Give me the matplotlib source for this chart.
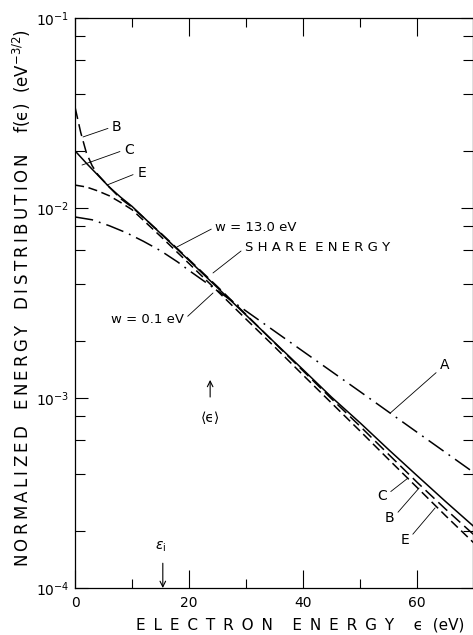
import numpy as np
import matplotlib
matplotlib.use("Agg")
import matplotlib.pyplot as plt
from matplotlib.ticker import LogLocator, FixedLocator, NullFormatter

plt.rcParams['font.family'] = ['DejaVu Sans']
plt.rcParams['mathtext.fontset'] = 'dejavusans'

# electron energy grid (eV)
eps = [0, 2, 4, 6, 8, 10, 15, 20, 25, 30, 35, 40, 45, 50, 55, 60, 65, 70]
eps_b = [0, 1, 2, 3, 4, 6, 8, 10, 15, 20, 25, 30, 35, 40, 45, 50, 55, 60, 65, 70]
eps_a = [0, 3, 6, 9, 12, 15, 18, 20, 30, 40, 50, 60, 70]

# normalized distributions f(eps), eV^-3/2
f_a = [8.97e-3, 8.67e-3, 8.07e-3, 7.41e-3, 6.68e-3, 5.96e-3, 5.20e-3, 4.69e-3,
       2.87e-3, 1.76e-3, 1.08e-3, 6.6e-4, 4.04e-4]
f_b = [0.034, 0.025, 0.0195, 0.0167, 0.0150, 0.0129, 0.0112, 0.0101, 7.4e-3,
       5.35e-3, 3.85e-3, 2.75e-3, 1.95e-3, 1.39e-3, 9.9e-4, 7.1e-4, 5.05e-4,
       3.6e-4, 2.6e-4, 1.9e-4]
f_c = [0.0200, 0.0172, 0.0149, 0.0129, 0.0114, 0.0102, 7.35e-3, 5.3e-3, 3.8e-3,
       2.73e-3, 1.96e-3, 1.41e-3, 1.01e-3, 7.4e-4, 5.35e-4, 3.9e-4, 2.85e-4, 2.1e-4]
f_e = [0.0132, 0.0129, 0.0123, 0.0116, 0.0107, 9.8e-3, 7.1e-3, 5.1e-3, 3.65e-3,
       2.6e-3, 1.86e-3, 1.32e-3, 9.4e-4, 6.7e-4, 4.75e-4, 3.38e-4, 2.4e-4, 1.72e-4]

eps_ion = 15.4     # ionization energy marker
eps_mean = 23.7    # mean energy marker

fig = plt.figure(figsize=(4.73, 6.35), dpi=100)
ax = fig.add_axes([75/473, 1 - 588/635, 398/473, 570/635])

ax.semilogy(eps_a, f_a, color='k', lw=1.1, dashes=[12, 4, 1.2, 4])
ax.semilogy(eps_b, f_b, color='k', lw=1.1, dashes=[8, 3.5])
ax.semilogy(eps, f_c, color='k', lw=1.1)
ax.semilogy(eps, f_e, color='k', lw=1.1, dashes=[6, 3])

ax.set_xlim(0, 69.8)
ax.set_ylim(1e-4, 1e-1)

ax.xaxis.set_major_locator(FixedLocator([0, 20, 40, 60]))
ax.xaxis.set_minor_locator(FixedLocator([10, 30, 50]))
ax.yaxis.set_minor_locator(LogLocator(base=10, subs=[2, 4, 6, 8]))
ax.yaxis.set_minor_formatter(NullFormatter())
ax.tick_params(which='both', direction='in', top=True, right=True, labelsize=10, width=0.8)
ax.tick_params(axis='x', which='major', length=13, pad=6)
ax.tick_params(axis='x', which='minor', length=6.5)
ax.tick_params(axis='y', which='major', length=9, pad=4)
ax.tick_params(axis='y', which='minor', length=7)
for s in ax.spines.values():
    s.set_linewidth(0.9)

sp = '\u2009'
ylab = sp.join('NORMALIZED') + '   ' + sp.join('ENERGY') + '   ' + sp.join('DISTRIBUTION') \
    + '    f(ϵ)  (eV$^{-3/2}$)'
fig.text(22/473, 1 - 298/635, ylab, rotation=90, ha='center', va='center', fontsize=12)
wsp = ' \u2009'
xlab = wsp.join('ELECTRON') + '    ' + wsp.join('ENERGY') + '    ϵ  (eV)'
fig.text(300/473, 1 - 625/635, xlab, ha='center', va='center', fontsize=11)

lead = dict(arrowstyle='-', lw=0.6, color='k', shrinkA=1, shrinkB=0)

def note(txt, xy, xyt, ha='left', rel=(0, 0.5), fs=10):
    ax.annotate(txt, xy=xy, xytext=xyt, ha=ha, va='center', fontsize=fs,
                arrowprops=dict(lead, relpos=rel))

# curve labels, upper left
note('B', (1.40, 0.02365), (6.5, 0.02669))
note('C', (1.23, 0.01683), (8.6, 0.02018))
note('E', (5.61, 0.01321), (10.9, 0.01528))
# bundle labels
note('w = 13.0 eV', (17.9, 6.24e-3), (24.6, 7.94e-3), fs=9.5)
note(' '.join('SHARE') + '  ' + ' '.join('ENERGY'), (24.2, 4.55e-3), (29.8, 6.16e-3), fs=9.5)
note('w = 0.1 eV', (24.2, 3.57e-3), (19.1, 2.58e-3), ha='right', rel=(1, 0.5), fs=9.5)
# tail labels
note('A', (55.3, 8.34e-4), (64.0, 1.49e-3), rel=(0, 0.2))
note('C', (58.4, 3.79e-4), (54.7, 3.05e-4), ha='right', rel=(1, 0.6))
note('B', (60.35, 3.36e-4), (56.0, 2.34e-4), ha='right', rel=(1, 0.6))
note('E', (63.16, 2.64e-4), (58.6, 1.79e-4), ha='right', rel=(1, 0.6))

# mean energy arrow
ax.annotate('', xy=(eps_mean, 1.245e-3), xytext=(eps_mean, 1.012e-3),
            arrowprops=dict(arrowstyle='->', lw=0.8, color='k', shrinkA=0, shrinkB=0))
ax.text(eps_mean, 7.85e-4, '⟨ϵ⟩', ha='center', va='center', fontsize=10)

# ionization energy arrow
ax.annotate('', xy=(eps_ion, 1.0e-4), xytext=(eps_ion, 1.35e-4),
            arrowprops=dict(arrowstyle='->', lw=0.8, color='k', shrinkA=0, shrinkB=0))
ax.text(eps_ion - 0.4, 1.65e-4, '$\\epsilon_{\\rm i}$', ha='center', va='center', fontsize=10)

fig.savefig('out.png', dpi=100)
